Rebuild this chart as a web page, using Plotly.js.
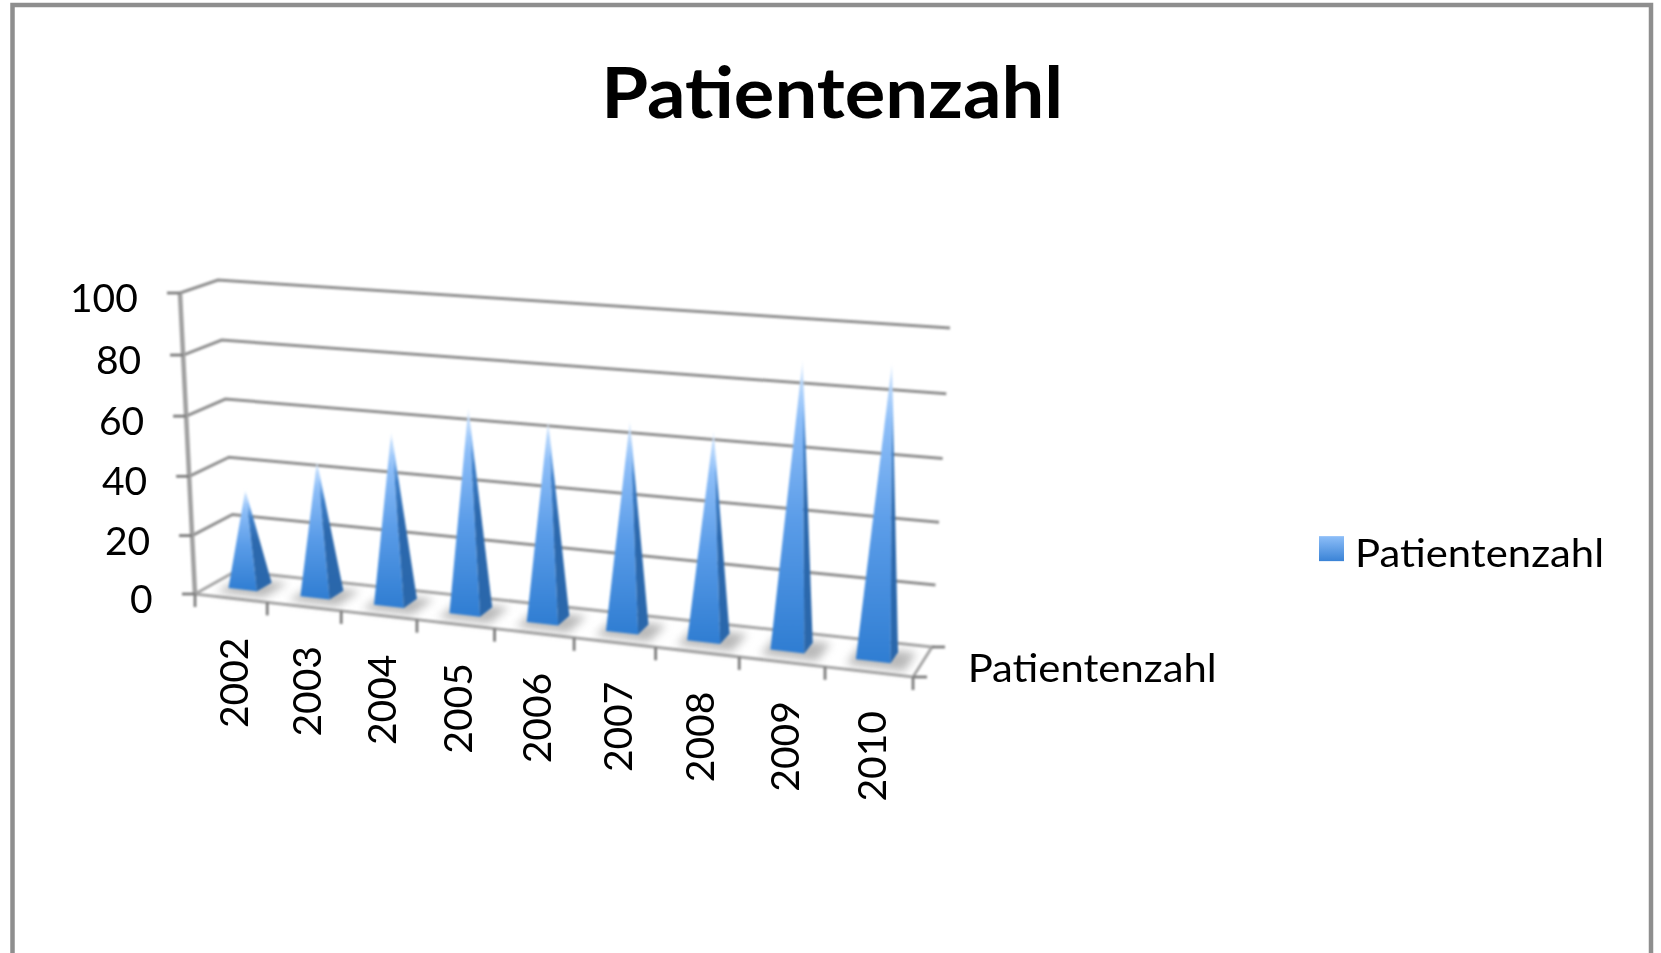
<!DOCTYPE html>
<html><head><meta charset="utf-8">
<script src="https://cdn.plot.ly/plotly-3.0.1.min.js"></script>
<style>html,body{margin:0;padding:0;background:#fff;overflow:hidden}#chart{width:1661px;height:953px}.cartesianlayer{filter:blur(.9px)}.infolayer{filter:blur(.5px)}</style>
</head><body><div id="chart"></div>
<script>
const years=['2002','2003','2004','2005','2006','2007','2008','2009','2010'];
const patients=[33,45,57,67,65,67,66,90,91];
const valueTicks=[0,20,40,60,80,100];
const seriesName='Patientenzahl';
const chartTitle='Patientenzahl';

// perspective box of the 3D chart, projected on the pixel-sized axes
const box={FL0:[195,594],FL1:[180,293],FR0:[913,677],FR1:[933,345],BL0:[236,571],BL1:[218,280],BR0:[932,647],BR1:[950,328]};
const n=years.length,bU=-0.01168,bH=-0.00037;
const lerp=(a,b,t)=>[a[0]+(b[0]-a[0])*t,a[1]+(b[1]-a[1])*t];
const wU=u=>u*(1+n*bU)/(n*(1+bU*u));
const wH=h=>h*(1+100*bH)/(100*(1+bH*h));
function P(u,v,h){const t=wU(u),s=wH(h);
 const f=lerp(lerp(box.FL0,box.FR0,t),lerp(box.FL1,box.FR1,t),s);
 const b=lerp(lerp(box.BL0,box.BR0,t),lerp(box.BL1,box.BR1,t),s);
 return lerp(f,b,v);}
function line(segs,color,width){const x=[],y=[];segs.forEach(s=>{s.forEach(p=>{x.push(p[0]);y.push(p[1])});x.push(null);y.push(null)});
 return {type:'scatter',mode:'lines',x,y,line:{color,width},hoverinfo:'skip',showlegend:false};}
function poly(pts,fill){return {type:'scatter',mode:'lines',x:pts.map(p=>p[0]).concat(pts[0][0]),y:pts.map(p=>p[1]).concat(pts[0][1]),fill:'toself',fillcolor:fill,line:{width:0},hoverinfo:'skip',showlegend:false};}
function gradPoly(pts,scale,name){return {type:'scatter',mode:'lines',name,x:pts.map(p=>p[0]).concat(pts[0][0]),y:pts.map(p=>p[1]).concat(pts[0][1]),fill:'toself',fillgradient:{type:'vertical',colorscale:scale},line:{width:0},hoverinfo:'skip',showlegend:false};}

const traces=[];
// walls gridlines
traces.push(line(valueTicks.filter(h=>h>0).map(h=>[P(0,0,h),P(0,1,h),P(n,1,h)]),'#8f8f8f',3));
// floor
traces.push(line([[P(0,0,0),P(0,1,0),P(n,1,0),P(n,0,0),P(0,0,0)]],'#a6a6a6',3));
// y axis + ticks
traces.push(line([[P(0,0,100),P(0,0,0)]],'#a0a0a0',4.5));
const tickSegs=valueTicks.map(h=>{const p=P(0,0,h);return [[p[0]-13,p[1]],p]});
for(let i=0;i<=n;i++){const p=P(i,0,0);tickSegs.push([p,[p[0],p[1]+13]]);}
const br=P(n,1,0),fr=P(n,0,0);
tickSegs.push([br,[br[0]+13,br[1]]]);tickSegs.push([fr,[fr[0]+14,fr[1]]]);
traces.push(line(tickSegs,'#7c7c7c',2.8));
const shadowStart=traces.length;
// soft shadows + pyramids
const cu=0.47,wu=0.2,vF=0.35,vB=0.72;
const scL=[[0,'#2f7dd2'],[0.45,'#5a9ce8'],[0.8,'#8dbef8'],[0.93,'#b9d8fc'],[1,'#eef6ff']];
const scR=[[0,'#2a67ab'],[0.5,'#2c69ae'],[0.72,'#3f80c9'],[0.85,'#8dbef8'],[1,'#eef6ff']];
patients.forEach((val,i)=>{
  const c=i+cu+0.04,e=0.1;
  traces.push(poly([P(c-wu-e,vF-0.2,0),P(c+wu+e*1.6,vF-0.2,0),P(c+wu+e*1.6,vB+0.05,0),P(c-wu-e,vB+0.05,0)],'rgba(130,130,130,0.55)'));
});
const shadowEnd=traces.length;
patients.forEach((val,i)=>{
 const c=i+cu,vc=(vF+vB)/2,a=P(c,vc,val);
 const fl=P(c-wu,vF,0),fr2=P(c+wu,vF,0),br2=P(c+wu,vB,0);
 traces.push(gradPoly([fl,fr2,a],scL,years[i]));
 traces.push(gradPoly([fr2,br2,a],scR,years[i]));
});
// legend entry
traces.push({type:'scatter',mode:'markers',name:seriesName,x:[null],y:[null],marker:{symbol:'square',size:16,color:'#8dbef8',gradient:{type:'vertical',color:'#3a83d6'}},hoverinfo:'skip',showlegend:true});

const font='Lato, "Open Sans", sans-serif';
const ink='#000',fs=39;
const ann=[];
valueTicks.forEach(h=>{const p=P(0,0,h);ann.push({x:p[0]-40,y:p[1]+4,xref:'x',yref:'y',text:String(h),showarrow:false,xanchor:'right',yanchor:'middle',font:{family:font,size:fs,color:ink}});});
years.forEach((yr,i)=>{const p=P(i+.5,0,0);ann.push({x:p[0]+2,y:p[1]+85,xref:'x',yref:'y',text:yr,textangle:-90,showarrow:false,xanchor:'center',yanchor:'middle',font:{family:font,size:fs,color:ink}});});
const sl=P(n,0.5,0);
ann.push({x:sl[0]+169.5,y:sl[1]+5,xref:'x',yref:'y',text:seriesName,showarrow:false,xanchor:'center',yanchor:'middle',font:{family:font,size:fs,color:ink}});

const layout={width:1661,height:953,margin:{l:0,r:0,t:0,b:0},paper_bgcolor:'#fff',plot_bgcolor:'#fff',
 title:{text:chartTitle,x:0.501,xanchor:'center',y:0.902,yanchor:'middle',font:{family:font,size:70,weight:700,color:'#000'}},
 xaxis:{range:[0,1661],visible:false,fixedrange:true},
 yaxis:{range:[953,0],visible:false,fixedrange:true},
 legend:{x:0.7917,y:0.421,xanchor:'left',yanchor:'middle',font:{family:font,size:fs,color:ink},bgcolor:'rgba(0,0,0,0)'},
 shapes:[{type:'rect',xref:'x',yref:'y',x0:12.5,x1:1651,y0:5,y1:1100,line:{color:'#8e8e8e',width:4.5},layer:'above'}],
 annotations:ann};
Plotly.newPlot('chart',traces,layout,{displayModeBar:false,staticPlot:true}).then(()=>{
 const fit=(el,w)=>{el.setAttribute('textLength',w);el.setAttribute('lengthAdjust','spacingAndGlyphs');};
 document.querySelectorAll('.gtitle').forEach(t=>fit(t,462));
 document.querySelectorAll('.legendtext').forEach(t=>fit(t,249));
 document.querySelectorAll('.annotation-text').forEach(t=>{if(t.textContent===seriesName)fit(t,249);});
 document.querySelectorAll('.legend path.scatterpts').forEach(p=>{p.setAttribute('d','M12.5,12.5H-12.5V-12.5H12.5Z');p.setAttribute('transform','translate(16.5,-3)');});
 document.querySelectorAll('.legend .scrollbox, .legend').forEach(g=>{g.removeAttribute('clip-path');g.style.clipPath='none';});
 const groups=document.querySelectorAll('.scatterlayer .trace');
 for(let i=shadowStart;i<shadowEnd;i++){if(groups[i])groups[i].style.filter='blur(4px)';}
});
</script></body></html>
